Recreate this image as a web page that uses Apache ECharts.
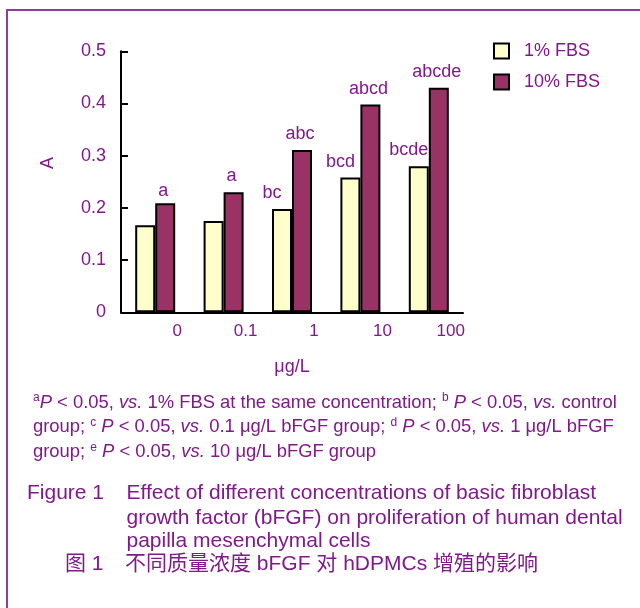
<!DOCTYPE html>
<html>
<head>
<meta charset="utf-8">
<script src="https://cdn.jsdelivr.net/npm/echarts@6/dist/echarts.min.js"></script>
<style>
  html, body { margin: 0; padding: 0; background: #ffffff; }
  #chart { width: 640px; height: 608px; }
</style>
</head>
<body>
<div id="chart"></div>
<script>
// bFGF concentrations (μg/L) on the category axis
const categories = ['0', '0.1', '1', '10', '100'];
// Absorbance (A) per serum level
const fbs1 = [0.167, 0.175, 0.198, 0.258, 0.280];
const fbs10 = [0.209, 0.230, 0.311, 0.398, 0.430];
// Significance letters above each bar
const sig1 = ['', '', 'bc', 'bcd', 'bcde'];
const sig10 = ['a', 'a', 'abc', 'abcd', 'abcde'];
const seriesNames = ['1% FBS', '10% FBS'];

const PURPLE = '#80198a';
const FONT = "'Liberation Sans', Arial, sans-serif";
const CJK = "'Liberation Sans', 'Noto Sans CJK SC', sans-serif";

function bars(values, letters) {
  return values.map((v, i) => {
    const item = { value: v, label: { formatter: letters[i] } };
    // the single-letter mark on the control group sits a little lower
    if (i === 0) item.label.distance = 3;
    return item;
  });
}

const labelBase = {
  show: true,
  position: 'top',
  distance: 7,
  color: PURPLE,
  fontSize: 18,
  fontFamily: FONT
};

const NOTE_SIZE = 18.4;
const rich = {
  sup: { fontSize: 12, fontFamily: FONT, color: PURPLE, verticalAlign: 'top', lineHeight: 22 },
  i: { fontSize: NOTE_SIZE, fontStyle: 'italic', fontFamily: FONT, color: PURPLE, lineHeight: 22 }
};

function noteLine(text, y) {
  return {
    type: 'text', left: 33, top: y - 11,
    style: { text: text, rich: rich, fontSize: NOTE_SIZE, fontFamily: FONT, fill: PURPLE, lineHeight: 22 }
  };
}
function capLine(text, x, y, fam) {
  return {
    type: 'text', left: x, top: y - 12,
    style: { text: text, fontSize: 21, fontFamily: fam || FONT, fill: PURPLE, lineHeight: 24 }
  };
}

const chart = echarts.init(document.getElementById('chart'), null, { renderer: 'canvas' });
chart.setOption({
  backgroundColor: '#ffffff',
  animation: false,
  textStyle: { fontFamily: FONT },
  grid: { left: 121, top: 51.3, right: 177, bottom: 295.7, containLabel: false },
  legend: {
    orient: 'vertical', left: 493, top: 42, padding: 0,
    itemWidth: 15, itemHeight: 15, itemGap: 13,
    icon: 'rect',
    itemStyle: { borderColor: '#000', borderWidth: 2 },
    textStyle: { fontSize: 18, color: PURPLE, fontFamily: FONT, padding: [0, 0, 0, 10] },
    data: seriesNames
  },
  xAxis: {
    type: 'category',
    data: categories,
    boundaryGap: true,
    axisLine: { lineStyle: { color: '#000', width: 2 } },
    axisTick: { inside: true, length: 6, lineStyle: { color: '#000', width: 2 } },
    axisLabel: { fontSize: 17, color: PURPLE, margin: 11, padding: [0, 0, 0, 44], fontFamily: FONT },
    name: 'μg/L',
    nameLocation: 'middle',
    nameGap: 46,
    nameTextStyle: { fontSize: 18, color: PURPLE, fontFamily: FONT },
    splitLine: { show: false }
  },
  yAxis: {
    type: 'value',
    min: 0, max: 0.5, interval: 0.1,
    axisLine: { show: true, lineStyle: { color: '#000', width: 2 } },
    axisTick: { show: true, inside: true, length: 7, lineStyle: { color: '#000', width: 2 } },
    axisLabel: { fontSize: 18, color: PURPLE, margin: 15, fontFamily: FONT },
    splitLine: { show: false }
  },
  series: [
    {
      name: seriesNames[0], type: 'bar', barWidth: 20, barGap: '0%',
      itemStyle: { color: '#ffffcc', borderColor: '#000', borderWidth: 2 },
      label: Object.assign({}, labelBase, { offset: [-10, 0] }),
      data: bars(fbs1, sig1)
    },
    {
      name: seriesNames[1], type: 'bar', barWidth: 20, barGap: '0%',
      itemStyle: { color: '#993366', borderColor: '#000', borderWidth: 2 },
      label: Object.assign({}, labelBase, { offset: [-2, 0] }),
      data: bars(fbs10, sig10)
    }
  ],
  graphic: [
    // frame
    { type: 'rect', shape: { x: 7, y: 10, width: 800, height: 800 },
      style: { fill: 'none', stroke: '#8e3d98', lineWidth: 2 }, silent: true },
    // y-axis title
    { type: 'text', x: 48, y: 163, rotation: Math.PI / 2,
      style: { text: 'A', fontSize: 18, fontFamily: FONT, fill: PURPLE, align: 'center', verticalAlign: 'middle' } },
    // footnote
    noteLine('{sup|a}{i|P} < 0.05, {i|vs.} 1% FBS at the same concentration; {sup|b} {i|P} < 0.05, {i|vs.} control', 402.8),
    noteLine('group; {sup|c} {i|P} < 0.05, {i|vs.} 0.1 μg/L bFGF group; {sup|d} {i|P} < 0.05, {i|vs.} 1 μg/L bFGF', 427.2),
    noteLine('group; {sup|e} {i|P} < 0.05, {i|vs.} 10 μg/L bFGF group', 452.2),
    // caption
    capLine('Figure 1', 27, 493.3),
    capLine('Effect of different concentrations of basic fibroblast', 126.5, 493.3),
    capLine('growth factor (bFGF) on proliferation of human dental', 126.5, 518.3),
    capLine('papilla mesenchymal cells', 126.5, 541.7),
    capLine('图 1', 65, 564.5, CJK),
    capLine('不同质量浓度 bFGF 对 hDPMCs 增殖的影响', 125, 564.5, CJK)
  ]
});
</script>
</body>
</html>
